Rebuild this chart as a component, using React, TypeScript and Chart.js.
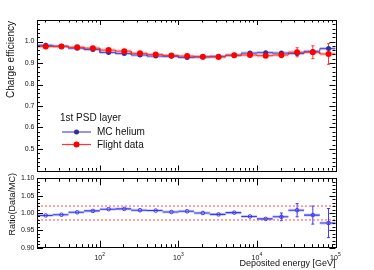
import React, { useEffect, useRef } from 'react';
import { Chart, registerables } from 'chart.js';

Chart.register(...registerables);

// ---------- data ----------
const binEdges = [15.85, 25.12, 39.81, 63.1, 100, 158.5, 251.2, 398.1, 631.0, 1000, 1585, 2512, 3981, 6310, 10000, 15849, 25119, 39811, 63096, 100000];
const mcHelium = [0.982, 0.978, 0.969, 0.963, 0.949, 0.944, 0.937, 0.932, 0.931, 0.926, 0.928, 0.931, 0.936, 0.946, 0.948, 0.946, 0.944, 0.954, 0.967];
const mcErr = [0.004, 0.003, 0.003, 0.003, 0.003, 0.003, 0.003, 0.003, 0.003, 0.003, 0.003, 0.003, 0.003, 0.004, 0.004, 0.005, 0.006, 0.007, 0.009];
const flightData = [0.977, 0.977, 0.973, 0.969, 0.96, 0.955, 0.945, 0.94, 0.935, 0.932, 0.929, 0.928, 0.936, 0.937, 0.934, 0.937, 0.95, 0.95, 0.942];
const flightErr = [0.002, 0.002, 0.002, 0.002, 0.002, 0.002, 0.002, 0.002, 0.002, 0.002, 0.003, 0.003, 0.004, 0.005, 0.006, 0.012, 0.021, 0.03, 0.048];
const ratio = [0.993, 0.995, 1.002, 1.006, 1.011, 1.012, 1.008, 1.007, 1.003, 1.005, 1.0, 0.996, 1.001, 0.99, 0.983, 0.989, 1.008, 0.994, 0.971];
const ratioErr = [0.002, 0.002, 0.002, 0.002, 0.002, 0.002, 0.002, 0.002, 0.002, 0.002, 0.003, 0.003, 0.004, 0.007, 0.006, 0.011, 0.019, 0.026, 0.042];
const ratioRefLines = [0.98, 1.02];
const topYTicks = [0.5, 0.6, 0.7, 0.8, 0.9, 1.0];
const ratioYTicks = [0.9, 0.95, 1.0, 1.05, 1.1];
const xDecades = [2, 3, 4, 5];
const legendTitle = '1st PSD layer';
const seriesNames = ['MC helium', 'Flight data'];

// ---------- style ----------
const W = 374;
const H = 270;
const FONT = '"Liberation Sans", Arial, Helvetica, sans-serif';
const X_MIN = 15.85;
const X_MAX = 100000;
const BLUE = '#2e2ea0';
const BLUE_LINE = 'rgba(70,70,200,0.95)';
const BLUE_BAND = 'rgba(90,90,210,0.35)';
const RED = '#ff0000';
const RED_LINE = 'rgba(255,40,40,0.95)';
const RED_BAND = 'rgba(255,90,90,0.35)';
const RATIO_BLUE = '#3a3af0';
const RATIO_BAND = 'rgba(80,80,240,0.3)';

const centers = binEdges.slice(0, -1).map((lo, i) => (lo + binEdges[i + 1]) / 2);

function stepData(vals: number[]) {
  const pts: { x: number; y: number }[] = [];
  vals.forEach((v, i) => {
    pts.push({ x: binEdges[i], y: v });
    pts.push({ x: binEdges[i + 1], y: v });
  });
  return pts;
}

function segData(vals: number[]) {
  const pts: { x: number; y: number | null }[] = [];
  vals.forEach((v, i) => {
    pts.push({ x: binEdges[i], y: v });
    pts.push({ x: binEdges[i + 1], y: v });
    pts.push({ x: binEdges[i + 1], y: null });
  });
  return pts;
}

function drawBands(chart: any, vals: number[], color: string, half: number) {
  const { ctx, scales } = chart;
  const xs = scales.x;
  const ys = scales.y;
  ctx.save();
  ctx.fillStyle = color;
  vals.forEach((v, i) => {
    const x0 = xs.getPixelForValue(binEdges[i]);
    const x1 = xs.getPixelForValue(binEdges[i + 1]);
    const c = ys.getPixelForValue(v);
    ctx.fillRect(x0, c - half, x1 - x0, half * 2);
  });
  ctx.restore();
}

function drawErrBars(chart: any, vals: number[], errs: number[], color: string, width: number) {
  const { ctx, scales } = chart;
  const xs = scales.x;
  const ys = scales.y;
  ctx.save();
  ctx.strokeStyle = color;
  ctx.lineWidth = width;
  vals.forEach((v, i) => {
    const x = xs.getPixelForValue(centers[i]);
    const y0 = ys.getPixelForValue(v + errs[i]);
    const y1 = ys.getPixelForValue(v - errs[i]);
    if (y1 - y0 < 5) return;
    ctx.beginPath();
    ctx.moveTo(x, y0);
    ctx.lineTo(x, y1);
    ctx.moveTo(x - 1.5, y0);
    ctx.lineTo(x + 1.5, y0);
    ctx.moveTo(x - 1.5, y1);
    ctx.lineTo(x + 1.5, y1);
    ctx.stroke();
  });
  ctx.restore();
}

function drawFrame(
  chart: any,
  yMajor: number[],
  yMinorStep: number,
  yDigits: number,
  yLen: [number, number],
  xLen: [number, number],
  xLabels: boolean
) {
  const { ctx, chartArea, scales } = chart;
  const { left, right, top, bottom } = chartArea;
  const xs = scales.x;
  const ys = scales.y;
  ctx.save();
  ctx.strokeStyle = '#000';
  ctx.lineWidth = 1;
  ctx.strokeRect(Math.round(left) + 0.5, Math.round(top) + 0.5, Math.round(right - left), Math.round(bottom - top));
  ctx.beginPath();
  for (let d = 1; d <= 5; d++) {
    for (let m = 1; m <= 9; m++) {
      const v = m * Math.pow(10, d);
      if (v < X_MIN || v > X_MAX * 1.0001) continue;
      const px = Math.round(xs.getPixelForValue(v)) + 0.5;
      const len = m === 1 ? xLen[0] : xLen[1];
      ctx.moveTo(px, bottom);
      ctx.lineTo(px, bottom - len);
      ctx.moveTo(px, top);
      ctx.lineTo(px, top + len);
    }
  }
  const yMin = ys.min;
  const yMax = ys.max;
  const n = Math.round((yMax - yMin) / yMinorStep);
  for (let k = 0; k <= n; k++) {
    const v = yMin + k * yMinorStep;
    const isMajor = yMajor.some((t) => Math.abs(t - v) < yMinorStep / 10);
    const py = Math.round(ys.getPixelForValue(v)) + 0.5;
    const len = isMajor ? yLen[0] : yLen[1];
    ctx.moveTo(left, py);
    ctx.lineTo(left + len, py);
    ctx.moveTo(right, py);
    ctx.lineTo(right - len, py);
  }
  ctx.stroke();
  ctx.fillStyle = '#111';
  ctx.font = `7px ${FONT}`;
  ctx.textAlign = 'right';
  ctx.textBaseline = 'middle';
  yMajor.forEach((t) => {
    ctx.fillText(t.toFixed(yDigits), left - 2.5, ys.getPixelForValue(t));
  });
  if (xLabels) {
    xDecades.forEach((d) => {
      const px = xs.getPixelForValue(Math.pow(10, d));
      ctx.font = `7px ${FONT}`;
      ctx.textAlign = 'center';
      ctx.textBaseline = 'alphabetic';
      ctx.fillText('10', px - 1.5, bottom + 12);
      ctx.font = `5px ${FONT}`;
      ctx.textAlign = 'left';
      ctx.fillText(String(d), px + 2.5, bottom + 8.5);
    });
  }
  ctx.restore();
}

function drawVTitle(ctx: CanvasRenderingContext2D, text: string, x: number, yTop: number, size: number) {
  ctx.save();
  ctx.translate(x, yTop);
  ctx.rotate(-Math.PI / 2);
  ctx.fillStyle = '#111';
  ctx.font = `${size}px ${FONT}`;
  ctx.textAlign = 'right';
  ctx.textBaseline = 'middle';
  ctx.fillText(text, 0, 0);
  ctx.restore();
}

const topPlugin = {
  id: 'topPanel',
  beforeDatasetsDraw(chart: any) {
    drawBands(chart, mcHelium, BLUE_BAND, 1.6);
    drawBands(chart, flightData, RED_BAND, 1.6);
    drawErrBars(chart, mcHelium, mcErr, BLUE_LINE, 1);
    drawErrBars(chart, flightData, flightErr, RED_LINE, 1);
  },
  afterDatasetsDraw(chart: any) {
    const { ctx } = chart;
    drawFrame(chart, topYTicks, 0.02, 1, [6, 3], [5, 2.5], false);
    drawVTitle(ctx, 'Charge efficiency', 11.5, 21, 10);
    ctx.save();
    ctx.fillStyle = '#111';
    ctx.font = `10px ${FONT}`;
    ctx.textAlign = 'left';
    ctx.textBaseline = 'middle';
    ctx.fillText(legendTitle, 60, 118);
    const rows = [
      { name: seriesNames[0], y: 132, line: BLUE_LINE, mark: BLUE, r: 2.5 },
      { name: seriesNames[1], y: 144.5, line: RED_LINE, mark: RED, r: 3 },
    ];
    rows.forEach((r) => {
      ctx.strokeStyle = r.line;
      ctx.lineWidth = 1.2;
      ctx.beginPath();
      ctx.moveTo(62, r.y);
      ctx.lineTo(91, r.y);
      ctx.stroke();
      ctx.fillStyle = r.mark;
      ctx.beginPath();
      ctx.arc(76.5, r.y, r.r, 0, Math.PI * 2);
      ctx.fill();
      ctx.fillStyle = '#111';
      ctx.fillText(r.name, 97, r.y + 0.5);
    });
    ctx.restore();
  },
};

const bottomPlugin = {
  id: 'bottomPanel',
  beforeDatasetsDraw(chart: any) {
    drawBands(chart, ratio, RATIO_BAND, 1.5);
    drawErrBars(chart, ratio, ratioErr, RATIO_BLUE, 1);
  },
  afterDatasetsDraw(chart: any) {
    const { ctx, chartArea } = chart;
    drawFrame(chart, ratioYTicks, 0.01, 2, [6, 3], [7, 3.5], true);
    drawVTitle(ctx, 'Ratio(Data/MC)', 12.5, 173, 9);
    ctx.save();
    ctx.fillStyle = '#111';
    ctx.font = `9px ${FONT}`;
    ctx.textAlign = 'right';
    ctx.textBaseline = 'middle';
    ctx.fillText('Deposited energy [GeV]', chartArea.right, 264);
    ctx.restore();
  },
};

function xScale() {
  return { type: 'logarithmic', display: false, min: X_MIN, max: X_MAX };
}

export default function App() {
  const topRef = useRef<HTMLCanvasElement>(null);
  const botRef = useRef<HTMLCanvasElement>(null);

  useEffect(() => {
    const top = new Chart(topRef.current as HTMLCanvasElement, {
      type: 'line',
      data: {
        datasets: [
          {
            data: centers.map((x, i) => ({ x, y: flightData[i] })),
            showLine: false,
            pointRadius: 3,
            pointBackgroundColor: RED,
            pointBorderWidth: 0,
            order: 0,
          },
          {
            data: centers.map((x, i) => ({ x, y: mcHelium[i] })),
            showLine: false,
            pointRadius: 2.5,
            pointBackgroundColor: BLUE,
            pointBorderWidth: 0,
            order: 1,
          },
          {
            data: stepData(flightData),
            borderColor: RED_LINE,
            borderWidth: 1,
            pointRadius: 0,
            order: 2,
          },
          {
            data: stepData(mcHelium),
            borderColor: BLUE_LINE,
            borderWidth: 1,
            pointRadius: 0,
            order: 3,
          },
        ] as any,
      },
      options: {
        responsive: false,
        animation: false,
        events: [],
        layout: { padding: { left: 37, right: 38.5, top: 20, bottom: 270 - 170.5 } },
        plugins: { legend: { display: false }, tooltip: { enabled: false } },
        scales: {
          x: xScale() as any,
          y: { type: 'linear', display: false, min: 0.4, max: 1.1 },
        },
      },
      plugins: [topPlugin],
    });

    const bot = new Chart(botRef.current as HTMLCanvasElement, {
      type: 'line',
      data: {
        datasets: [
          {
            data: centers.map((x, i) => ({ x, y: ratio[i] })),
            showLine: false,
            pointRadius: 1.8,
            pointBackgroundColor: 'rgba(0,0,0,0)',
            pointBorderColor: RATIO_BLUE,
            pointBorderWidth: 1,
            order: 0,
          },
          {
            data: segData(ratio),
            borderColor: RATIO_BLUE,
            borderWidth: 1.1,
            pointRadius: 0,
            spanGaps: false,
            order: 1,
          },
          ...ratioRefLines.map((v) => ({
            data: [
              { x: X_MIN, y: v },
              { x: X_MAX, y: v },
            ],
            borderColor: 'rgba(255,90,90,0.85)',
            borderWidth: 1.3,
            borderDash: [2, 2],
            pointRadius: 0,
            order: 2,
          })),
        ] as any,
      },
      options: {
        responsive: false,
        animation: false,
        events: [],
        layout: { padding: { left: 37, right: 38.5, top: 178.3, bottom: 270 - 247.7 } },
        plugins: { legend: { display: false }, tooltip: { enabled: false } },
        scales: {
          x: xScale() as any,
          y: { type: 'linear', display: false, min: 0.9, max: 1.1 },
        },
      },
      plugins: [bottomPlugin],
    });

    return () => {
      top.destroy();
      bot.destroy();
    };
  }, []);

  const cs: React.CSSProperties = { position: 'absolute', left: 0, top: 0, width: W, height: H };
  return (
    <div style={{ position: 'fixed', left: 0, top: 0, width: W, height: H, background: '#fff' }}>
      <canvas ref={botRef} width={W} height={H} style={cs} />
      <canvas ref={topRef} width={W} height={H} style={cs} />
    </div>
  );
}
